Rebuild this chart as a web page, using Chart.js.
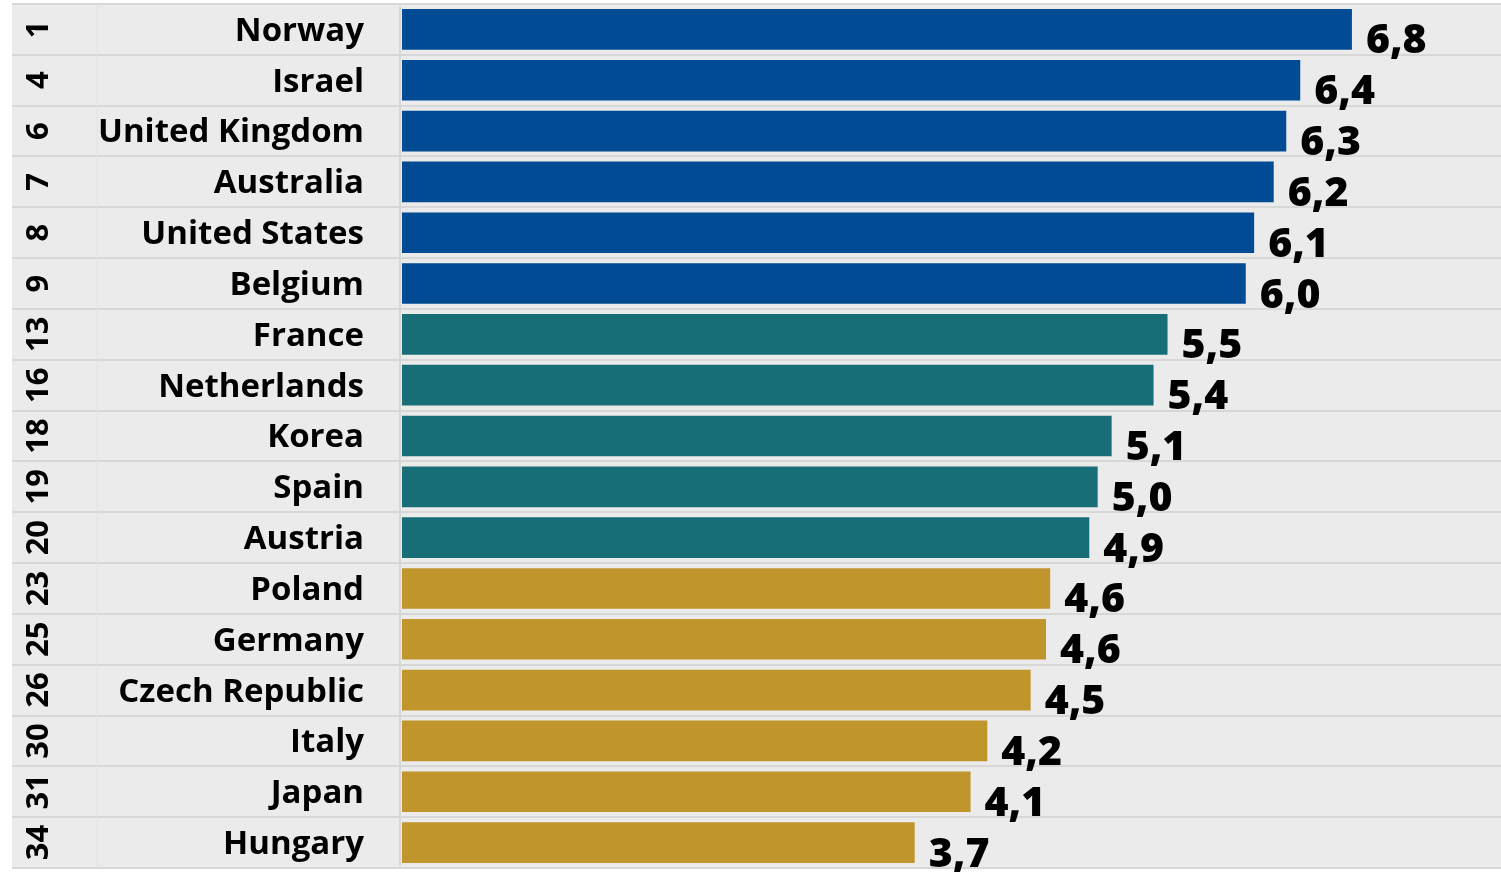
<!DOCTYPE html>
<html>
<head>
<meta charset="utf-8">
<script src="https://cdn.jsdelivr.net/npm/chart.js@4"></script>
<style>
  html, body { margin: 0; padding: 0; background: #fff; }
  #wrap { width: 1501px; height: 872px; }
</style>
</head>
<body>
<div id="wrap"><canvas id="rankChart"></canvas></div>
<script>
// data
const countries = ["Norway", "Israel", "United Kingdom", "Australia", "United States", "Belgium",
  "France", "Netherlands", "Korea", "Spain", "Austria",
  "Poland", "Germany", "Czech Republic", "Italy", "Japan", "Hungary"];
const ranks = [1, 4, 6, 7, 8, 9, 13, 16, 18, 19, 20, 23, 25, 26, 30, 31, 34];
const scores = [6.80, 6.43, 6.33, 6.24, 6.10, 6.04, 5.48, 5.38, 5.08, 4.98, 4.92,
  4.64, 4.61, 4.50, 4.19, 4.07, 3.67];
const tiers = [0, 0, 0, 0, 0, 0, 1, 1, 1, 1, 1, 2, 2, 2, 2, 2, 2];

const palette = ["#004b93", "#186e77", "#bf952c"];
const FONT = "'Open Sans', Lato, sans-serif";
const WEIGHT = "bold";

// grey panel, row dividers and column rules
const backdrop = {
  id: "backdrop",
  beforeDraw(chart) {
    const { ctx, chartArea } = chart;
    const y = chart.scales.y;
    const pitch = (chartArea.bottom - chartArea.top) / countries.length;
    ctx.save();
    ctx.fillStyle = "#ffffff";
    ctx.fillRect(0, 0, chart.width, chart.height);
    ctx.fillStyle = "#ebebeb";
    ctx.fillRect(12, chartArea.top, chart.width - 12, chartArea.bottom - chartArea.top);
    ctx.strokeStyle = "#d7d7d7";
    ctx.lineWidth = 2;
    for (let i = 0; i <= countries.length; i++) {
      const yy = Math.round(y.getPixelForValue(0) - pitch / 2 + i * pitch);
      ctx.beginPath();
      ctx.moveTo(12, yy);
      ctx.lineTo(chart.width, yy);
      ctx.stroke();
    }
    ctx.beginPath();
    ctx.moveTo(chartArea.left - 2, chartArea.top);
    ctx.lineTo(chartArea.left - 2, chartArea.bottom);
    ctx.stroke();
    ctx.strokeStyle = "#e2e2e2";
    ctx.lineWidth = 1;
    ctx.beginPath();
    ctx.moveTo(97, chartArea.top);
    ctx.lineTo(97, chartArea.bottom);
    ctx.stroke();
    ctx.restore();
  }
};

// rotated rank numbers + value labels
const annotate = {
  id: "annotate",
  afterDatasetsDraw(chart) {
    const { ctx } = chart;
    const y = chart.scales.y;
    ctx.save();
    ctx.fillStyle = "#000";
    ctx.font = WEIGHT + " 31px " + FONT;
    ctx.textAlign = "center";
    ctx.textBaseline = "middle";
    ranks.forEach((r, i) => {
      ctx.save();
      ctx.translate(38, y.getPixelForValue(i));
      ctx.rotate(-Math.PI / 2);
      ctx.fillText(String(r), 0, 1);
      ctx.restore();
    });
    ctx.font = "800 41px " + FONT;
    ctx.textAlign = "left";
    ctx.textBaseline = "alphabetic";
    chart.getDatasetMeta(0).data.forEach((bar, i) => {
      const txt = scores[i].toFixed(1).replace(".", ",");
      ctx.fillText(txt, bar.x + 14, bar.y + 24);
    });
    ctx.restore();
  }
};

new Chart(document.getElementById("rankChart"), {
  type: "bar",
  data: {
    labels: countries,
    datasets: [{
      data: scores,
      backgroundColor: tiers.map((t) => palette[t]),
      borderWidth: 0,
      barPercentage: 0.8,
      categoryPercentage: 1.0,
    }],
  },
  options: {
    indexAxis: "y",
    responsive: true,
    maintainAspectRatio: false,
    animation: false,
    layout: { padding: { left: 12, right: 1, top: 4, bottom: 4 } },
    plugins: { legend: { display: false }, tooltip: { enabled: false } },
    scales: {
      x: { display: false, min: 0, max: 7.86 },
      y: {
        grid: { display: false, drawTicks: false },
        border: { display: false },
        ticks: { color: "#000", padding: 38, labelOffset: 2, font: { family: FONT, size: 33, weight: WEIGHT } },
        afterFit(scale) {
          scale.width = 390;
          scale.paddingTop = 0;
          scale.paddingBottom = 0;
        },
      },
    },
  },
  plugins: [backdrop, annotate],
});
</script>
</body>
</html>
